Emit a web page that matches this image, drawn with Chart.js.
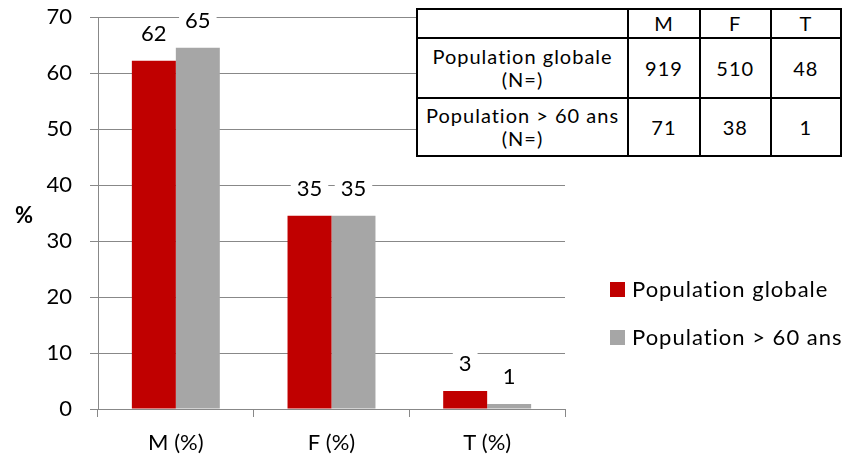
<!DOCTYPE html>
<html>
<head>
<meta charset="utf-8">
<script src="https://cdn.jsdelivr.net/npm/chart.js@4/dist/chart.umd.min.js"></script>
<style>
  html, body { margin: 0; padding: 0; background: #fff; }
  #wrap { position: relative; width: 842px; height: 458px; overflow: hidden; font-family: Lato, sans-serif; }
  #chart { position: absolute; left: 0; top: 0; }
  #ytitle { position: absolute; left: 15px; top: 201px; font: bold 22px Lato, sans-serif; }
  #counts { position: absolute; left: 416px; top: 8px; border-collapse: collapse; background: #fff; font: 20px Lato, sans-serif; letter-spacing: 1px; }
  #counts td { border: 2px solid #000; text-align: center; padding: 0; line-height: 23px; }
  #legend { position: absolute; left: 610px; top: 276px; font: 22px Lato, sans-serif; letter-spacing: 1px; white-space: nowrap; }
  #legend div { height: 48px; display: flex; align-items: flex-start; line-height: 26px; }
  #legend span.sw { display: inline-block; width: 15px; height: 15px; margin: 6px 7px 0 0; }
</style>
</head>
<body>
<div id="wrap">
  <canvas id="chart" width="842" height="458"></canvas>
  <div id="ytitle">%</div>
  <table id="counts"></table>
  <div id="legend"></div>
</div>
<script>
// chart data
const categories = ['M (%)', 'F (%)', 'T (%)'];
const seriesNames = ['Population globale', 'Population > 60 ans'];
const globale = [62.2, 34.5, 3.2];
const plus60 = [64.5, 34.5, 0.9];
const colors = ['#C00000', '#A6A6A6'];

// table of counts
const tableHead = ['', 'M', 'F', 'T'];
const tableRows = [
  ['Population globale<br>(N=)', 919, 510, 48],
  ['Population > 60 ans<br>(N=)', 71, 38, 1]
];

const table = document.getElementById('counts');
const colW = [225, 76, 75, 76];
let html = '<tr>' + tableHead.map((h, i) => `<td style="width:${colW[i] - 2}px;height:27px">${h}</td>`).join('') + '</tr>';
tableRows.forEach((r, ri) => {
  html += '<tr>' + r.map(c => `<td style="height:${ri === 0 ? 58 : 56}px">${c}</td>`).join('') + '</tr>';
});
table.innerHTML = html;

// labels above bars, with white box so gridlines are cut
const barLabels = {
  id: 'barLabels',
  afterDatasetsDraw(chart) {
    const ctx = chart.ctx;
    ctx.save();
    ctx.font = '22px Lato, sans-serif';
    ctx.textAlign = 'center';
    ctx.textBaseline = 'middle';
    chart.data.datasets.forEach((ds, i) => {
      chart.getDatasetMeta(i).data.forEach((bar, j) => {
        const txt = String(Math.round(ds.data[j]));
        const w = ctx.measureText(txt).width + 12;
        const cy = bar.y - 27;
        ctx.fillStyle = '#fff';
        ctx.fillRect(bar.x - w / 2, cy - 15, w, 30);
        ctx.fillStyle = '#000';
        ctx.fillText(txt, bar.x, cy);
      });
    });
    ctx.restore();
  }
};

const chart = new Chart(document.getElementById('chart'), {
  type: 'bar',
  data: {
    labels: categories,
    datasets: [
      { label: seriesNames[0], data: globale, backgroundColor: colors[0] },
      { label: seriesNames[1], data: plus60, backgroundColor: colors[1] }
    ]
  },
  options: {
    responsive: false,
    animation: false,
    layout: { padding: { top: 17, right: 277, left: 0, bottom: 0 } },
    datasets: { bar: { barPercentage: 1, categoryPercentage: 0.565 } },
    plugins: { legend: { display: false }, tooltip: { enabled: false } },
    scales: {
      x: {
        grid: { drawOnChartArea: false, color: '#888', tickLength: 8, offset: true },
        border: { color: '#888' },
        ticks: { color: '#000', font: { family: 'Lato', size: 22 }, padding: 13 },
        afterFit: s => { s.height = 49; }
      },
      y: {
        min: 0, max: 70,
        grid: { color: '#888', tickLength: 8 },
        border: { color: '#888' },
        ticks: { stepSize: 10, color: '#000', font: { family: 'Lato', size: 22 }, padding: 18 },
        afterFit: s => { s.width = 98; s.paddingTop = 0; s.paddingBottom = 0; }
      }
    }
  },
  plugins: [barLabels]
});

// legend built from datasets
document.getElementById('legend').innerHTML = chart.data.datasets.map(d =>
  `<div><span class="sw" style="background:${d.backgroundColor}"></span>${d.label}</div>`).join('');
</script>
</body>
</html>
